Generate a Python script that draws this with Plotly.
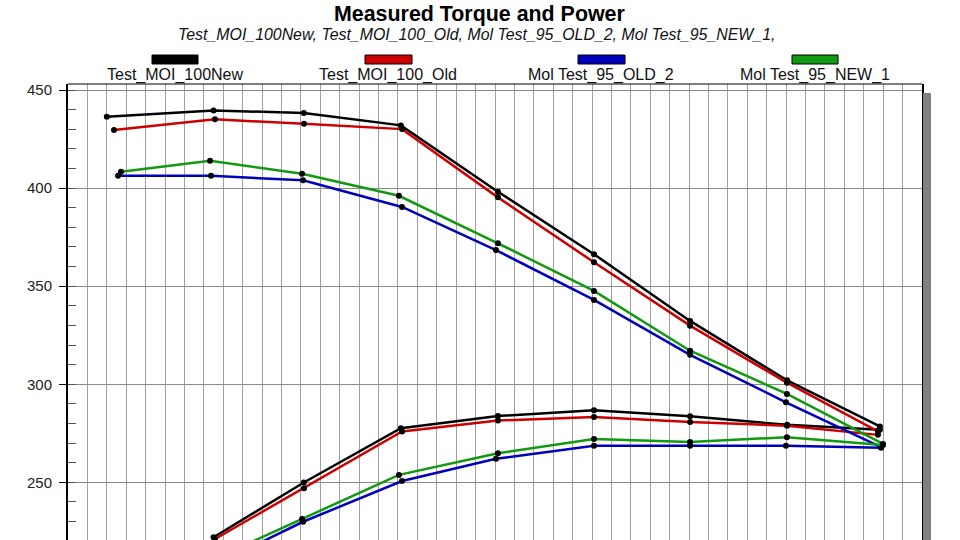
import plotly.graph_objects as go

# ---- data ----
series_names = ["Test_MOl_100New", "Test_MOl_100_Old", "Mol Test_95_OLD_2", "Mol Test_95_NEW_1"]
legend_labels = ["Test_MOI_100New", "Test_MOI_100_Old", "Mol Test_95_OLD_2", "Mol Test_95_NEW_1"]
series_colors = ["#000000", "#cc0000", "#0000bb", "#119911"]

rpm_new100 = [1200, 1750, 2215, 2715, 3215, 3710, 4205, 4705, 5183]
rpm_old100 = [1237, 1757, 2216, 2721, 3215, 3710, 4205, 4704, 5173]
rpm_old95 = [1258, 1737, 2211, 2721, 3205, 3710, 4205, 4699, 5189]
rpm_new95 = [1273, 1732, 2206, 2705, 3215, 3710, 4205, 4704, 5199]

torque_new100 = [436.4, 439.6, 438.3, 432.0, 398.2, 366.3, 332.3, 302.0, 278.5]
torque_old100 = [429.6, 435.1, 432.8, 430.1, 395.3, 362.2, 329.9, 300.8, 276.0]
torque_old95 = [406.3, 406.3, 404.0, 390.4, 368.4, 343.0, 315.0, 290.8, 268.0]
torque_new95 = [408.4, 414.0, 407.3, 396.1, 371.9, 347.6, 317.1, 295.1, 269.6]

power_new100 = [None, 222.0, 249.9, 277.6, 283.8, 286.7, 283.7, 279.3, 276.8]
power_old100 = [None, 221.1, 247.0, 275.9, 281.5, 283.3, 280.8, 278.9, 274.2]
power_old95 = [None, 207.0, 229.9, 250.7, 262.0, 268.6, 268.7, 268.7, 267.6]
power_new95 = [None, 210.0, 231.3, 253.8, 264.8, 272.1, 270.6, 273.0, 269.0]

title_text = "Measured Torque and Power"
subtitle_text = "Test_MOI_100New, Test_MOI_100_Old, Mol Test_95_OLD_2, Mol Test_95_NEW_1,"

y_ticks = [250, 300, 350, 400, 450]

rpms = [rpm_new100, rpm_old100, rpm_old95, rpm_new95]
torques = [torque_new100, torque_old100, torque_old95, torque_new95]
powers = [power_new100, power_old100, power_old95, power_new95]

FONT = "Liberation Sans, Arial, sans-serif"
W, H = 960, 540
L, R, T, B = 68, 922, 84, 540


def px(x):
    return (x - L) / (R - L)


def py(y):
    return (B - y) / (B - T)


fig = go.Figure()
for name, col, xs, tq, pw in zip(series_names, series_colors, rpms, torques, powers):
    for ys in (tq, pw):
        fig.add_trace(go.Scatter(
            x=xs, y=ys, mode="lines+markers", name=name, showlegend=False,
            line=dict(color=col, width=2.5),
            marker=dict(color="#000000", size=6),
            cliponaxis=True,
        ))

shapes = []
annotations = []

# top border of plot
shapes.append(dict(type="line", xref="paper", yref="paper", x0=0, x1=1, y0=1, y1=1,
                   line=dict(color="#000000", width=1.2)))
# drop shadow at right
shapes.append(dict(type="rect", xref="paper", yref="paper", x0=px(923), x1=px(931),
                   y0=0, y1=py(93), fillcolor="#808080", line=dict(width=0)))

# custom legend
rect_x = [(152, 198), (365, 412), (578, 625), (792, 838)]
label_cx = [175, 388, 601, 815]
for (x0, x1), cx, col, lab in zip(rect_x, label_cx, series_colors, legend_labels):
    shapes.append(dict(type="rect", xref="paper", yref="paper", x0=px(x0), x1=px(x1),
                       y0=py(64), y1=py(55), fillcolor=col,
                       line=dict(color="#000000", width=1)))
    annotations.append(dict(text=lab, xref="paper", yref="paper", x=px(cx), y=py(75),
                            xanchor="center", yanchor="middle", showarrow=False,
                            font=dict(family=FONT, size=16, color="#111111")))

annotations.append(dict(text="<b>" + title_text + "</b>", xref="paper", yref="paper",
                        x=px(479), y=py(14), xanchor="center", yanchor="middle",
                        showarrow=False, font=dict(family=FONT, size=21.4, color="#000000")))
annotations.append(dict(text="<i>" + subtitle_text + "</i>", xref="paper", yref="paper",
                        x=px(476), y=py(34), xanchor="center", yanchor="middle",
                        showarrow=False, font=dict(family=FONT, size=15.9, color="#111111")))

fig.update_layout(
    width=W, height=H,
    margin=dict(l=L, r=W - R, t=T, b=H - B, pad=0),
    paper_bgcolor="#ffffff", plot_bgcolor="#ffffff",
    shapes=shapes, annotations=annotations,
    showlegend=False,
    xaxis=dict(range=[1000, 5400], tick0=1000, dtick=100, showgrid=True,
               gridcolor="#a0a0a0", gridwidth=1, showticklabels=False, ticks="",
               zeroline=False, showline=False, fixedrange=True),
    yaxis=dict(range=[220.6, 453.1], tickvals=y_ticks, ticktext=[str(v) for v in y_ticks],
               showgrid=True, gridcolor="#8a8a8a", gridwidth=1,
               ticks="outside", ticklen=7, tickcolor="#000000", tickwidth=1,
               ticklabelstandoff=4,
               minor=dict(dtick=10, tick0=0, ticks="inside", ticklen=8,
                          tickcolor="#555555", tickwidth=1, showgrid=False),
               showline=True, linecolor="#000000", linewidth=2, mirror=True,
               zeroline=False, fixedrange=True,
               tickfont=dict(family=FONT, size=15, color="#222222")),
)

fig.write_html("out.html", config={"displayModeBar": False},
               post_script="document.body.style.margin='0';document.body.style.overflow='hidden';")
